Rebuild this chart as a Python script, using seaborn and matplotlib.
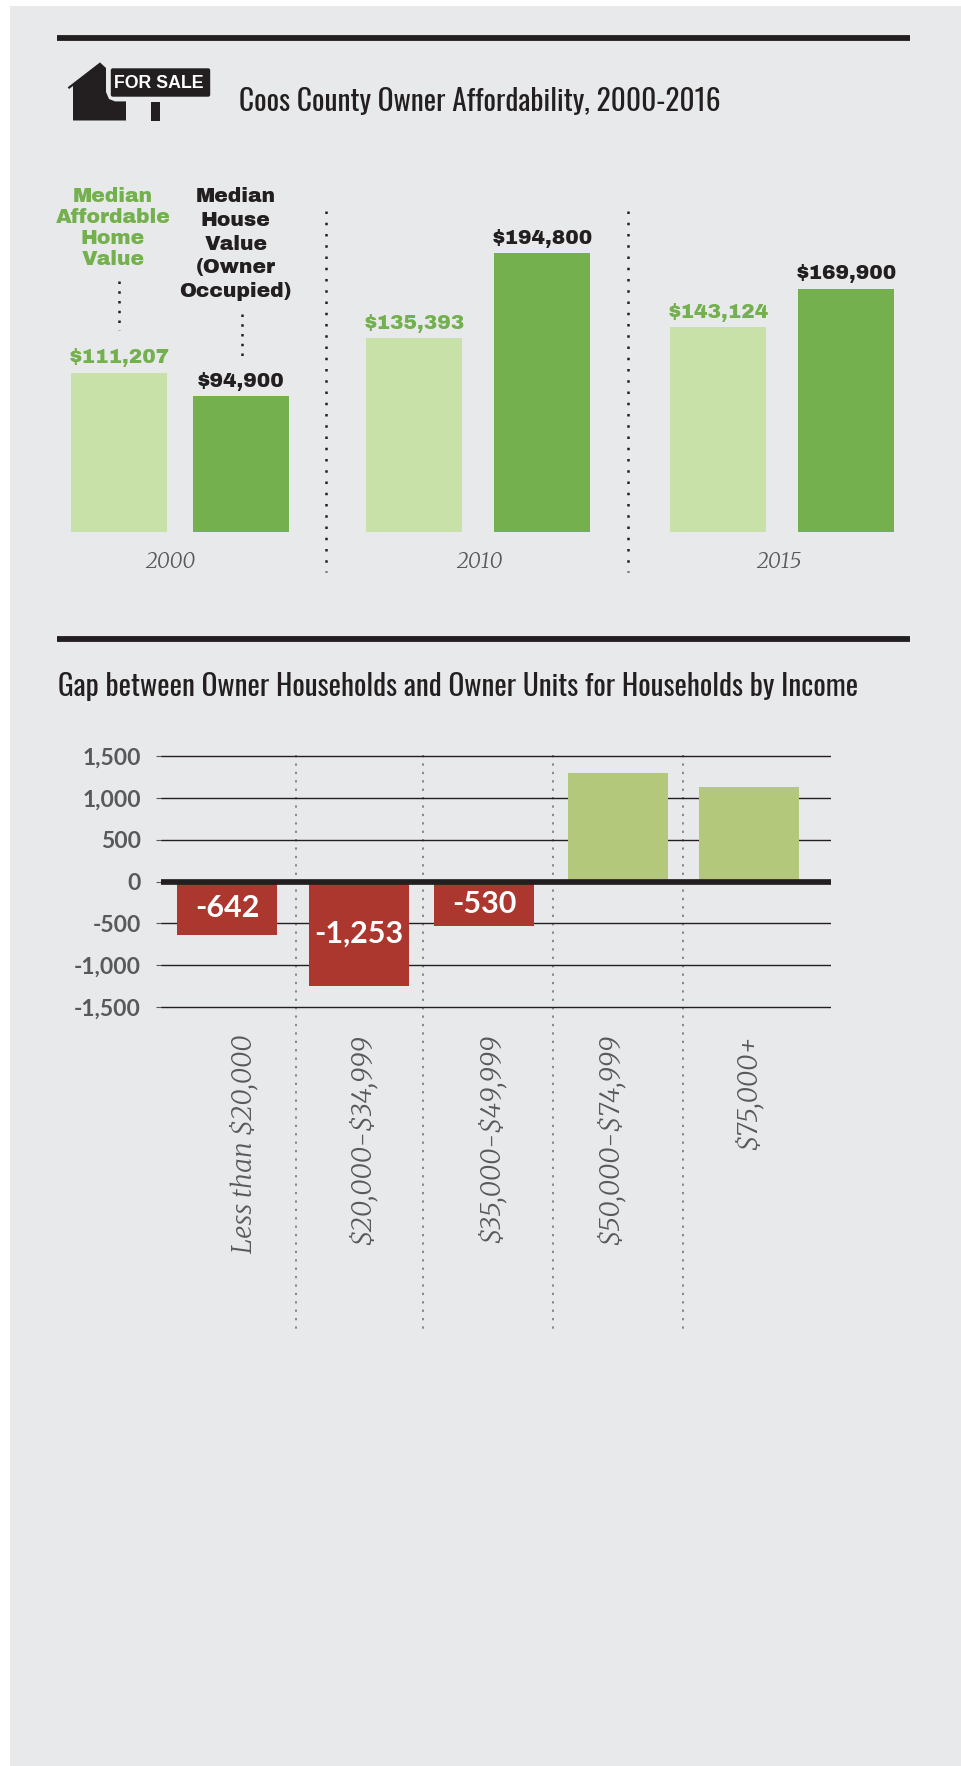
import matplotlib
matplotlib.use('Agg')
import matplotlib.pyplot as plt
from matplotlib import font_manager as fm
from matplotlib.patches import Rectangle, Polygon, FancyBboxPatch
import pandas as pd
import seaborn as sns

# DATA -----------------------------------------------------------------------
years = ['2000', '2010', '2015']
affordable_values = [111207, 135393, 143124]
house_values = [94900, 194800, 169900]

income_labels = ['Less than $20,000', '$20,000-$34,999', '$35,000-$49,999',
                 '$50,000-$74,999', '$75,000+']
gap_values = [-642, -1253, -530, 1300, 1125]
gap_labels = ['-642', '-1,253', '-530', '', '']
gap_ticks = [1500, 1000, 500, 0, -500, -1000, -1500]

title_top = 'Coos County Owner Affordability, 2000-2016'
title_bottom = 'Gap between Owner Households and Owner Units for Households by Income'
head_affordable = 'Median\nAffordable\nHome\nValue'
head_house = 'Median\nHouse\nValue\n(Owner\nOccupied)'

# COLORS AND FONTS -----------------------------------------------------------
BG = '#E8E9EB'
INK = '#231F20'
GREEN = '#74B04E'
LIGHT_GREEN = '#C7E1A9'
OLIVE = '#B3C87B'
RED = '#AC372E'
GREY = '#58595B'

sns.set_theme(style='white')
plt.rcParams['text.parse_math'] = False  # the labels have dollar signs in them
installed = {f.name for f in fm.fontManager.ttflist}


def pick(*names):
    for name in names:
        if name in installed:
            return name
    return 'DejaVu Sans'


NARROW = pick('Oswald', 'Roboto Condensed', 'Liberation Sans')
HEAVY = pick('Archivo Black', 'Lato')
SANS = pick('Lato', 'Roboto')
SERIF = pick('Merriweather', 'Liberation Serif')

W, H = 961, 1766
fig = plt.figure(figsize=(W / 100, H / 100), dpi=100, facecolor='white')


def px_axes(left, top, right, bottom, **kw):
    return fig.add_axes([left / W, 1 - bottom / H, (right - left) / W, (bottom - top) / H], **kw)


# BACKGROUND LAYER (pixel coordinates) ---------------------------------------
bg = fig.add_axes([0, 0, 1, 1], zorder=0)
bg.set_xlim(0, W)
bg.set_ylim(H, 0)
bg.axis('off')
bg.add_patch(Rectangle((10, 5.7), W - 10, H, fc=BG, ec='none'))
for y in (38, 639):
    bg.plot([57, 909.5], [y, y], color=INK, lw=4.2, solid_capstyle='butt')

# for sale icon
bg.add_patch(Polygon([(100, 62.4), (67.7, 87.3), (69, 89), (73, 86), (73, 120.5), (126, 120.5),
                      (126, 101.4), (115, 101.4), (109, 99), (106, 92), (106, 68)],
                     closed=True, fc=INK, ec='none'))
bg.add_patch(FancyBboxPatch((112, 69.5), 97, 26, boxstyle='round,pad=1.2,rounding_size=2', fc=INK, ec='none'))
bg.add_patch(Rectangle((151, 102), 9, 18.5, fc=INK, ec='none'))
bg.text(158.5, 84, 'FOR SALE', color='white', family=pick('Liberation Sans', 'Roboto'), weight='bold',
        fontsize=12.8, ha='center', va='center')

bg.text(239, 111, title_top, family=NARROW, fontsize=21.2, color=INK, ha='left', va='baseline')
bg.text(58.5, 696, title_bottom, family=NARROW, fontsize=21.1, color=INK, ha='left', va='baseline')

# dotted separators
for x in (325.5, 628):
    bg.plot([x, x], [211, 572], color=INK, lw=1.8, ls=(0, (1, 3.5)))
bg.plot([119.3, 119.3], [281, 330], color=INK, lw=1.8, ls=(0, (1, 2.9)))
bg.plot([242, 242], [314, 356], color=INK, lw=1.8, ls=(0, (1, 2.9)))
for x in (296, 423, 553, 682.5):
    bg.plot([x, x], [755, 1334], color='#6D6E71', lw=1.1, ls=(0, (1.5, 4)))

# column heads
bg.text(113, 228, head_affordable, family=HEAVY, fontsize=14.6, color=GREEN,
        ha='center', va='center', linespacing=1.13)
bg.text(235.7, 244, head_house, family=HEAVY, fontsize=14.6, color=INK,
        ha='center', va='center', linespacing=1.32)

# TOP CHART ------------------------------------------------------------------
top_layout = [(58, 302, 0.787, 170), (350, 606, 0.75, 479), (654, 910, 0.75, 779)]
y_max = 200000
px_per_dollar = 0.00143
for year, aff, house, (left, right, bar_w, label_x) in zip(years, affordable_values, house_values, top_layout):
    ax = px_axes(left, 532 - y_max * px_per_dollar, right, 532)
    ax.patch.set_alpha(0)
    frame = pd.DataFrame({'series': ['affordable', 'house'], 'value': [aff, house]})
    sns.barplot(data=frame, x='series', y='value', hue='series', width=bar_w, legend=False,
                palette={'affordable': LIGHT_GREEN, 'house': GREEN}, saturation=1, linewidth=0, ax=ax)
    ax.set_xlim(-0.5, 1.5)
    ax.set_ylim(0, y_max)
    ax.set_xlabel('')
    ax.set_ylabel('')
    ax.set_xticks([])
    ax.set_yticks([])
    sns.despine(ax=ax, left=True, bottom=True)
    for container, color in zip(ax.containers, (GREEN, INK)):
        ax.bar_label(container, fmt='${:,.0f}', padding=4, color=color, family=HEAVY, fontsize=14.5)
    bg.text(label_x, 562, year, family=SERIF, style='italic', fontsize=15, color=GREY, ha='center', va='center')

# BOTTOM CHART ---------------------------------------------------------------
zero_y = 881.5
px_per_unit = 0.0836
limit = 1600
slot = 130.5
first_bar = 227
gap = px_axes(161, zero_y - limit * px_per_unit, 831, zero_y + limit * px_per_unit, zorder=2)
gap.patch.set_alpha(0)
colors = [RED if v < 0 else OLIVE for v in gap_values]
sns.barplot(x=income_labels, y=gap_values, hue=income_labels, palette=colors, legend=False,
            width=100 / slot, saturation=1, linewidth=0, ax=gap, zorder=2)
gap.set_xlim((161 - first_bar) / slot, (831 - first_bar) / slot)
gap.set_ylim(-limit, limit)
gap.set_yticks(gap_ticks)
gap.set_yticklabels([f'{t:,}' for t in gap_ticks], family=SANS, weight='bold', fontsize=16.5, color=GREY)
gap.tick_params(axis='y', left=True, length=3.8, width=0.8, color=GREY, pad=10.6)
gap.grid(axis='y', color=INK, lw=1.0)
gap.set_axisbelow(True)
sns.despine(ax=gap, left=True, bottom=True)
gap.axhline(0, color=INK, lw=4.1, zorder=4)
gap.set_ylabel('')

# small shifts so the bars sit where the original has them
for container, nudge in zip(gap.containers, (0, 1.5, -4, -0.5, 0)):
    for bar in container:
        bar.set_x(bar.get_x() + nudge / slot)

for container, text in zip(gap.containers, gap_labels):
    gap.bar_label(container, labels=[text], label_type='center', color='white', family=SANS, weight='bold',
                  fontsize=22, zorder=5)

label_px = [244, 362, 491, 610, 748]
gap.set_xticks([(x - first_bar) / slot for x in label_px])
gap.set_xticklabels(income_labels, rotation=90, family=SERIF, style='italic', fontsize=19, color=GREY, va='top')
gap.tick_params(axis='x', bottom=False, pad=7.5)

fig.savefig('out.png', dpi=100, facecolor=fig.get_facecolor())
